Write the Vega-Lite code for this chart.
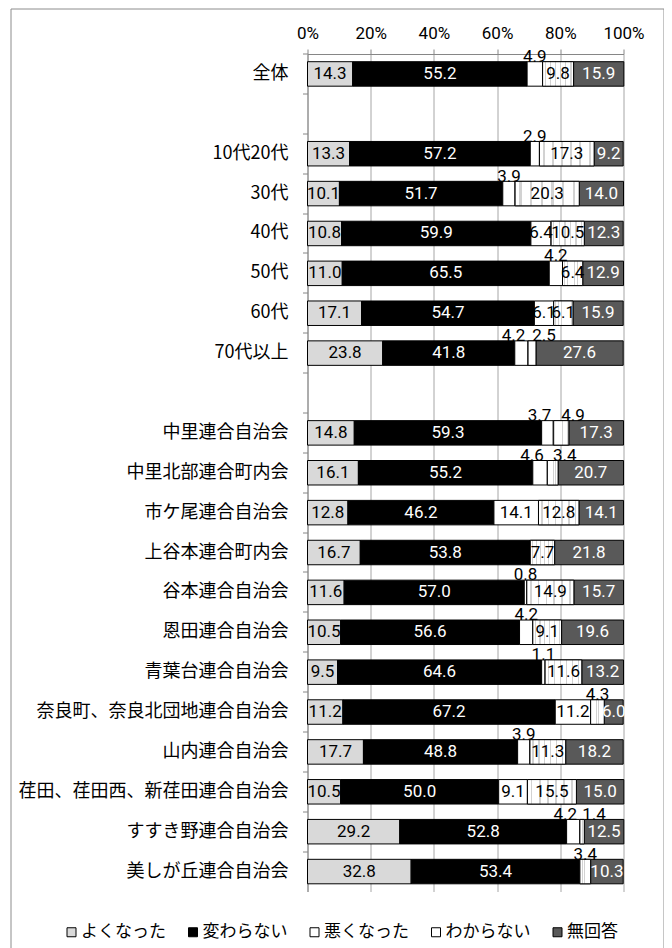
{
  "$schema": "https://vega.github.io/schema/vega-lite/v6.json",
  "width": 653,
  "height": 939.5,
  "autosize": {"type": "none"},
  "padding": {"left": 10.5, "top": 8.5, "right": 0, "bottom": 0},
  "background": "white",
  "config": {
    "view": {"stroke": "#8c8c8c", "strokeWidth": 1},
    "font": "Noto Sans CJK JP"
  },
  "data": {
    "values": [
      {"g": "全体", "よくなった": 14.3, "変わらない": 55.2, "悪くなった": 4.9, "わからない": 9.8, "無回答": 15.9},
      {"g": "10代20代", "よくなった": 13.3, "変わらない": 57.2, "悪くなった": 2.9, "わからない": 17.3, "無回答": 9.2},
      {"g": "30代", "よくなった": 10.1, "変わらない": 51.7, "悪くなった": 3.9, "わからない": 20.3, "無回答": 14.0},
      {"g": "40代", "よくなった": 10.8, "変わらない": 59.9, "悪くなった": 6.4, "わからない": 10.5, "無回答": 12.3},
      {"g": "50代", "よくなった": 11.0, "変わらない": 65.5, "悪くなった": 4.2, "わからない": 6.4, "無回答": 12.9},
      {"g": "60代", "よくなった": 17.1, "変わらない": 54.7, "悪くなった": 6.1, "わからない": 6.1, "無回答": 15.9},
      {"g": "70代以上", "よくなった": 23.8, "変わらない": 41.8, "悪くなった": 4.2, "わからない": 2.5, "無回答": 27.6},
      {"g": "中里連合自治会", "よくなった": 14.8, "変わらない": 59.3, "悪くなった": 3.7, "わからない": 4.9, "無回答": 17.3},
      {"g": "中里北部連合町内会", "よくなった": 16.1, "変わらない": 55.2, "悪くなった": 4.6, "わからない": 3.4, "無回答": 20.7},
      {"g": "市ケ尾連合自治会", "よくなった": 12.8, "変わらない": 46.2, "悪くなった": 14.1, "わからない": 12.8, "無回答": 14.1},
      {"g": "上谷本連合町内会", "よくなった": 16.7, "変わらない": 53.8, "悪くなった": 0, "わからない": 7.7, "無回答": 21.8},
      {"g": "谷本連合自治会", "よくなった": 11.6, "変わらない": 57.0, "悪くなった": 0.8, "わからない": 14.9, "無回答": 15.7},
      {"g": "恩田連合自治会", "よくなった": 10.5, "変わらない": 56.6, "悪くなった": 4.2, "わからない": 9.1, "無回答": 19.6},
      {"g": "青葉台連合自治会", "よくなった": 9.5, "変わらない": 64.6, "悪くなった": 1.1, "わからない": 11.6, "無回答": 13.2},
      {"g": "奈良町、奈良北団地連合自治会", "よくなった": 11.2, "変わらない": 67.2, "悪くなった": 11.2, "わからない": 4.3, "無回答": 6.0},
      {"g": "山内連合自治会", "よくなった": 17.7, "変わらない": 48.8, "悪くなった": 3.9, "わからない": 11.3, "無回答": 18.2},
      {"g": "荏田、荏田西、新荏田連合自治会", "よくなった": 10.5, "変わらない": 50.0, "悪くなった": 9.1, "わからない": 15.5, "無回答": 15.0},
      {"g": "すすき野連合自治会", "よくなった": 29.2, "変わらない": 52.8, "悪くなった": 4.2, "わからない": 1.4, "無回答": 12.5},
      {"g": "美しが丘連合自治会", "よくなった": 32.8, "変わらない": 53.4, "悪くなった": 0, "わからない": 3.4, "無回答": 10.3}
    ]
  },
  "transform": [
    {"fold": ["よくなった", "変わらない", "悪くなった", "わからない", "無回答"], "as": ["a", "v"]},
    {
      "lookup": "a",
      "from": {
        "data": {
          "values": [
            {"a": "よくなった", "k": 1},
            {"a": "変わらない", "k": 2},
            {"a": "悪くなった", "k": 3},
            {"a": "わからない", "k": 4},
            {"a": "無回答", "k": 5}
          ]
        },
        "key": "a",
        "fields": ["k"]
      }
    }
  ],
  "encoding": {
    "y": {
      "field": "g",
      "type": "nominal",
      "scale": {
        "domain": ["全体", " ", "10代20代", "30代", "40代", "50代", "60代", "70代以上", "  ",
          "中里連合自治会", "中里北部連合町内会", "市ケ尾連合自治会", "上谷本連合町内会", "谷本連合自治会",
          "恩田連合自治会", "青葉台連合自治会", "奈良町、奈良北団地連合自治会", "山内連合自治会",
          "荏田、荏田西、新荏田連合自治会", "すすき野連合自治会", "美しが丘連合自治会"],
        "range": [45.5, 883],
        "paddingInner": 0,
        "paddingOuter": 0
      },
      "axis": {
        "orient": "left",
        "offset": -297,
        "title": null,
        "bandPosition": 0,
        "domainColor": "#868686",
        "tickColor": "#868686",
        "tickSize": 5,
        "labelPadding": 14.5,
        "labelFont": "Noto Sans CJK JP",
        "labelFontSize": 18,
        "labelColor": "#000000",
        "labelLimit": 400,
        "grid": false
      }
    },
    "order": {"field": "k", "type": "quantitative"}
  },
  "layer": [
    {
      "mark": {"type": "bar", "height": {"band": 0.614}, "stroke": "#000000", "strokeWidth": 1},
      "encoding": {
        "x": {
          "field": "v",
          "type": "quantitative",
          "stack": "zero",
          "scale": {"domain": [0, 100], "range": [297, 613], "nice": false},
          "axis": {
            "orient": "top",
            "offset": -45.5,
            "title": null,
            "values": [0, 20, 40, 60, 80, 100],
            "labelExpr": "datum.value + '%'",
            "labelFlush": false,
            "grid": true,
            "gridColor": "#a6a6a6",
            "domainColor": "#868686",
            "tickColor": "#868686",
            "tickSize": 5,
            "labelPadding": 7,
            "labelFont": "Roboto",
            "labelFontSize": 17,
            "labelColor": "#000000"
          }
        },
        "fill": {
          "field": "a",
          "type": "nominal",
          "scale": {
            "domain": ["よくなった", "変わらない", "悪くなった", "わからない", "無回答"],
            "range": ["#d9d9d9", "#000000", "#ffffff", "#ffffff", "#595959"]
          },
          "legend": {
            "orient": "none",
            "legendX": 52.5,
            "legendY": 915,
            "direction": "horizontal",
            "columns": 5,
            "columnPadding": 18.5,
            "title": null,
            "symbolType": "square",
            "symbolSize": 81,
            "symbolStrokeColor": "#000000",
            "symbolStrokeWidth": 1,
            "labelFont": "Noto Sans CJK JP",
            "labelFontSize": 17,
            "labelColor": "#000000",
            "labelOffset": 1
          }
        }
      }
    },
    {
      "mark": {
        "type": "bar",
        "height": {"band": 0.614},
        "stroke": "#000000",
        "strokeWidth": 1,
        "fill": {
          "gradient": "linear",
          "x1": 0, "y1": 0, "x2": 1, "y2": 0,
          "stops": [
            {"offset": 0, "color": "#ffffff"},
            {"offset": 0.0658, "color": "#ffffff"}, {"offset": 0.0658, "color": "#d2d2d2"},
            {"offset": 0.1008, "color": "#d2d2d2"}, {"offset": 0.1008, "color": "#ffffff"},
            {"offset": 0.2325, "color": "#ffffff"}, {"offset": 0.2325, "color": "#d2d2d2"},
            {"offset": 0.2675, "color": "#d2d2d2"}, {"offset": 0.2675, "color": "#ffffff"},
            {"offset": 0.3992, "color": "#ffffff"}, {"offset": 0.3992, "color": "#d2d2d2"},
            {"offset": 0.4342, "color": "#d2d2d2"}, {"offset": 0.4342, "color": "#ffffff"},
            {"offset": 0.5658, "color": "#ffffff"}, {"offset": 0.5658, "color": "#d2d2d2"},
            {"offset": 0.6008, "color": "#d2d2d2"}, {"offset": 0.6008, "color": "#ffffff"},
            {"offset": 0.7325, "color": "#ffffff"}, {"offset": 0.7325, "color": "#d2d2d2"},
            {"offset": 0.7675, "color": "#d2d2d2"}, {"offset": 0.7675, "color": "#ffffff"},
            {"offset": 0.8992, "color": "#ffffff"}, {"offset": 0.8992, "color": "#d2d2d2"},
            {"offset": 0.9342, "color": "#d2d2d2"}, {"offset": 0.9342, "color": "#ffffff"},
            {"offset": 1, "color": "#ffffff"}
          ]
        }
      },
      "encoding": {
        "x": {"field": "v", "type": "quantitative", "stack": "zero"},
        "detail": {"field": "a"},
        "opacity": {"condition": {"test": "datum.a === 'わからない'", "value": 1}, "value": 0}
      }
    },
    {
      "mark": {"type": "text", "font": "Roboto", "fontSize": 17, "baseline": "middle", "align": "center"},
      "encoding": {
        "x": {"field": "v", "type": "quantitative", "stack": "zero", "bandPosition": 0.5},
        "detail": {"field": "a"},
        "text": {"condition": {"test": "datum.v < 5", "value": ""}, "field": "v", "type": "quantitative", "format": ".1f"},
        "color": {"condition": {"test": "datum.a === '変わらない' || datum.a === '無回答'", "value": "#ffffff"}, "value": "#000000"}
      }
    },
    {
      "mark": {"type": "text", "font": "Roboto", "fontSize": 17, "baseline": "middle", "align": "center", "dy": -17, "color": "#000000"},
      "encoding": {
        "x": {"field": "v", "type": "quantitative", "stack": "zero", "bandPosition": 0.5},
        "detail": {"field": "a"},
        "text": {
          "condition": {"test": "!(datum.v > 0 && datum.v < 5) || (datum['悪くなった'] > 0 && datum['悪くなった'] < 5 && datum['わからない'] > 0 && datum['わからない'] < 5)", "value": ""},
          "field": "v", "type": "quantitative", "format": ".1f"
        }
      }
    },
    {
      "mark": {"type": "text", "font": "Roboto", "fontSize": 17, "baseline": "middle", "align": "center", "dy": -17, "dx": -8, "color": "#000000"},
      "encoding": {
        "x": {"field": "v", "type": "quantitative", "stack": "zero", "bandPosition": 0.5},
        "detail": {"field": "a"},
        "text": {
          "condition": {"test": "!(datum.a === '悪くなった' && datum['悪くなった'] > 0 && datum['悪くなった'] < 5 && datum['わからない'] > 0 && datum['わからない'] < 5)", "value": ""},
          "field": "v", "type": "quantitative", "format": ".1f"
        }
      }
    },
    {
      "mark": {"type": "text", "font": "Roboto", "fontSize": 17, "baseline": "middle", "align": "center", "dy": -17, "dx": 12, "color": "#000000"},
      "encoding": {
        "x": {"field": "v", "type": "quantitative", "stack": "zero", "bandPosition": 0.5},
        "detail": {"field": "a"},
        "text": {
          "condition": {"test": "!(datum.a === 'わからない' && datum['悪くなった'] > 0 && datum['悪くなった'] < 5 && datum['わからない'] > 0 && datum['わからない'] < 5)", "value": ""},
          "field": "v", "type": "quantitative", "format": ".1f"
        }
      }
    }
  ]
}
